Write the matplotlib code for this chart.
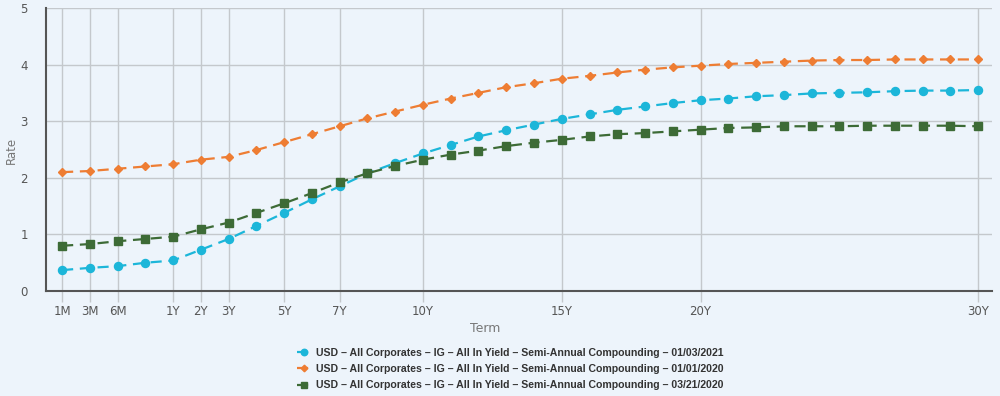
import matplotlib.pyplot as plt

# term buckets (34 points), only some are labelled on the axis
terms = ['1M', '3M', '6M', '9M', '1Y', '2Y', '3Y', '4Y', '5Y', '6Y', '7Y', '8Y', '9Y', '10Y',
         '11Y', '12Y', '13Y', '14Y', '15Y', '16Y', '17Y', '18Y', '19Y', '20Y',
         '21Y', '22Y', '23Y', '24Y', '25Y', '26Y', '27Y', '28Y', '29Y', '30Y']
tick_labels = ['1M', '3M', '6M', '1Y', '2Y', '3Y', '5Y', '7Y', '10Y', '15Y', '20Y', '30Y']

rate_2021 = [0.37, 0.41, 0.44, 0.50, 0.54, 0.73, 0.92, 1.15, 1.38, 1.62, 1.85, 2.08, 2.26,
             2.43, 2.58, 2.73, 2.84, 2.94, 3.04, 3.12, 3.20, 3.26, 3.32, 3.37, 3.40, 3.44,
             3.46, 3.49, 3.50, 3.51, 3.53, 3.54, 3.54, 3.55]
rate_jan2020 = [2.10, 2.12, 2.16, 2.20, 2.24, 2.32, 2.37, 2.49, 2.63, 2.77, 2.91, 3.05, 3.17,
                3.29, 3.40, 3.50, 3.60, 3.67, 3.75, 3.80, 3.86, 3.91, 3.95, 3.98, 4.01, 4.03,
                4.05, 4.07, 4.08, 4.08, 4.09, 4.09, 4.09, 4.09]
rate_mar2020 = [0.80, 0.83, 0.88, 0.92, 0.96, 1.09, 1.21, 1.38, 1.55, 1.73, 1.92, 2.08, 2.21,
                2.32, 2.41, 2.48, 2.56, 2.62, 2.67, 2.73, 2.77, 2.79, 2.82, 2.85, 2.88, 2.89,
                2.91, 2.91, 2.91, 2.92, 2.92, 2.92, 2.92, 2.91]

labels = ['USD – All Corporates – IG – All In Yield – Semi-Annual Compounding – 01/03/2021',
          'USD – All Corporates – IG – All In Yield – Semi-Annual Compounding – 01/01/2020',
          'USD – All Corporates – IG – All In Yield – Semi-Annual Compounding – 03/21/2020']

bg = '#edf4fb'
fig = plt.figure(figsize=(10, 3.96), dpi=100, facecolor=bg)
ax = fig.add_axes([0.046, 0.265, 0.946, 0.715], facecolor=bg)

x = list(range(len(terms)))
dash = (0, (5, 3))
ax.plot(x, rate_2021, color='#1cb6d9', linestyle=dash, linewidth=1.6,
        marker='o', markersize=5.8, label=labels[0], zorder=3)
ax.plot(x, rate_jan2020, color='#ee7d33', linestyle=dash, linewidth=1.6,
        marker='D', markersize=4.2, label=labels[1], zorder=3)
ax.plot(x, rate_mar2020, color='#3d6b36', linestyle=dash, linewidth=1.6,
        marker='s', markersize=5.8, label=labels[2], zorder=3)

tick_pos = [terms.index(t) for t in tick_labels]
ax.set_xticks(tick_pos)
ax.set_xticklabels(tick_labels)
ax.set_xlim(-0.58, 33.5)
ax.set_ylim(0, 5)
ax.set_yticks([0, 1, 2, 3, 4, 5])

ax.grid(True, color='#c4c8cc', linewidth=1.0)
ax.set_axisbelow(True)
ax.tick_params(axis='x', length=8, color='#c4c8cc', width=1.0, labelsize=8.5,
               labelcolor='#555555', pad=2)
ax.tick_params(axis='y', length=0, labelsize=8.5, labelcolor='#555555', pad=13)

for s in ['top', 'right']:
    ax.spines[s].set_visible(False)
for s in ['left', 'bottom']:
    ax.spines[s].set_color('#555555')
    ax.spines[s].set_linewidth(1.5)

fig.text(0.011, 0.62, 'Rate', fontsize=8.5, color='#777777', rotation=90,
         ha='center', va='center')
fig.text(0.485, 0.17, 'Term', fontsize=9, color='#777777', ha='center', va='center')

leg = fig.legend(loc='center', bbox_to_anchor=(0.51, 0.068), ncol=1, frameon=False,
                 prop={'family': 'Liberation Sans', 'weight': 'bold', 'size': 7.6},
                 handlelength=1.4, handletextpad=0.4, labelspacing=0.6,
                 markerscale=0.8)
for t in leg.get_texts():
    t.set_color('#333333')

fig.savefig('out.png', dpi=100, facecolor=bg)
